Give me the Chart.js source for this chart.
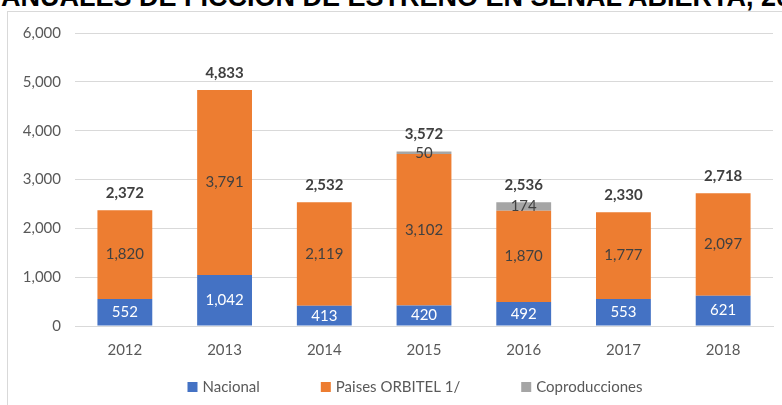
<!DOCTYPE html>
<html>
<head>
<meta charset="utf-8">
<script src="https://cdn.jsdelivr.net/npm/chart.js@4"></script>
<style>
  html, body { margin: 0; padding: 0; background: #fff; overflow: hidden; }
  #wrap { position: relative; width: 782px; height: 405px; overflow: hidden; }
  #titulo { position: absolute; top: -17px; left: 0; white-space: nowrap;
    font: bold 27px "Liberation Sans", Arial, sans-serif; color: #000; line-height: 28px; }
  #marco { position: absolute; left: 7px; top: 11px; width: 820px; height: 420px;
    border: 1px solid #D9D9D9; box-sizing: border-box; }
  #grafico { position: absolute; left: 0; top: 0; }
</style>
</head>
<body>
<div id="wrap">
  <div id="titulo"><span id="pre">HORAS </span>ANUALES DE FICCIÓN DE ESTRENO EN SEÑAL ABIERTA, 2012-2018</div>
  <div id="marco"></div>
  <canvas id="grafico" width="782" height="405"></canvas>
</div>
<script>
  // datos
  const anios = ['2012', '2013', '2014', '2015', '2016', '2017', '2018'];
  const nacional = [552, 1042, 413, 420, 492, 553, 621];
  const orbitel = [1820, 3791, 2119, 3102, 1870, 1777, 2097];
  const coproducciones = [0, 0, 0, 50, 174, 0, 0];
  const totales = [2372, 4833, 2532, 3572, 2536, 2330, 2718];

  // el prefijo del titulo queda fuera de la imagen
  const pre = document.getElementById('pre');
  document.getElementById('titulo').style.left = (-pre.offsetWidth + 1) + 'px';

  const fuente = 'Lato, "Open Sans", sans-serif';
  const fmt = n => n.toLocaleString('en-US');

  const etiquetas = {
    id: 'etiquetas',
    afterDatasetsDraw(chart) {
      const ctx = chart.ctx;
      ctx.save();
      ctx.textAlign = 'center';
      ctx.textBaseline = 'middle';
      chart.data.datasets.forEach((ds, i) => {
        const meta = chart.getDatasetMeta(i);
        meta.data.forEach((bar, j) => {
          const v = ds.data[j];
          if (!v) return;
          ctx.font = '15px ' + fuente;
          ctx.fillStyle = i === 0 ? '#FFFFFF' : '#404040';
          ctx.fillText(fmt(v), bar.x, (bar.y + bar.base) / 2);
        });
      });
      // totales arriba
      const y = chart.scales.y;
      const x = chart.scales.x;
      ctx.font = 'bold 15px ' + fuente;
      ctx.fillStyle = '#404040';
      totales.forEach((t, j) => {
        ctx.fillText(fmt(t), x.getPixelForValue(j), y.getPixelForValue(t) - 17);
      });
      ctx.restore();
    },
    // leyenda con mas espacio entre elementos
    afterDraw(chart) {
      const ctx = chart.ctx;
      const ds = chart.data.datasets;
      ctx.save();
      ctx.font = '15px ' + fuente;
      const caja = 10, sep = 5, hueco = 61;
      const anchos = ds.map(d => caja + sep + ctx.measureText(d.label).width);
      const total = anchos.reduce((a, b) => a + b, 0) + hueco * (ds.length - 1);
      let x = 415 - total / 2;
      const yl = 387;
      ctx.textBaseline = 'middle';
      ctx.textAlign = 'left';
      ds.forEach((d, i) => {
        ctx.fillStyle = d.backgroundColor;
        ctx.fillRect(x, yl - caja / 2, caja, caja);
        ctx.fillStyle = '#595959';
        ctx.fillText(d.label, x + caja + sep, yl);
        x += anchos[i] + hueco;
      });
      ctx.restore();
    }
  };

  new Chart(document.getElementById('grafico'), {
    type: 'bar',
    data: {
      labels: anios,
      datasets: [
        { label: 'Nacional', data: nacional, backgroundColor: '#4472C4' },
        { label: 'Paises ORBITEL 1/', data: orbitel, backgroundColor: '#ED7D31' },
        { label: 'Coproducciones', data: coproducciones, backgroundColor: '#A5A5A5' }
      ]
    },
    options: {
      responsive: false,
      animation: false,
      events: [],
      barPercentage: 0.55,
      categoryPercentage: 1,
      layout: { padding: { left: 10, right: 9, top: 33, bottom: 31 } },
      plugins: {
        tooltip: { enabled: false },
        legend: { display: false }
      },
      scales: {
        x: {
          stacked: true,
          grid: { display: false, drawTicks: false },
          border: { color: '#D9D9D9' },
          ticks: { color: '#595959', font: { family: fuente, size: 15 }, padding: 15 }
        },
        y: {
          stacked: true,
          min: 0, max: 6000,
          afterFit(s) { s.width = 65; },
          grid: { color: '#D9D9D9', drawTicks: false },
          border: { display: false },
          ticks: {
            stepSize: 1000, padding: 14,
            color: '#595959', font: { family: fuente, size: 15 },
            callback: v => fmt(v)
          }
        }
      }
    },
    plugins: [etiquetas]
  });
</script>
</body>
</html>
